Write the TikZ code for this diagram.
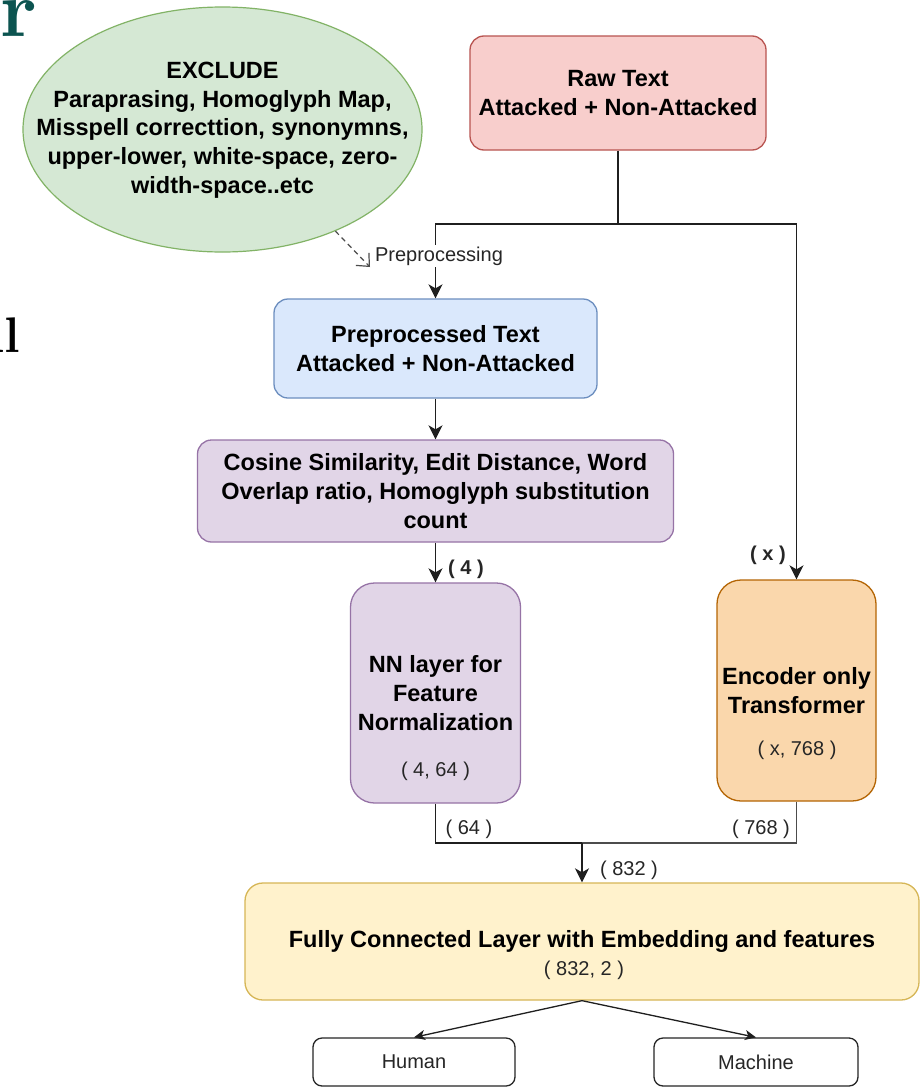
\documentclass[tikz,border=0pt]{standalone}
\usepackage{fontspec}
\newfontfamily\arial{Liberation Sans}
\usetikzlibrary{arrows.meta,shapes.geometric}
\definecolor{redfill}{HTML}{F8CECC}\definecolor{redline}{HTML}{B85450}
\definecolor{bluefill}{HTML}{DAE8FC}\definecolor{blueline}{HTML}{6C8EBF}
\definecolor{purfill}{HTML}{E1D5E7}\definecolor{purline}{HTML}{9673A6}
\definecolor{orfill}{HTML}{FAD7AC}\definecolor{orline}{HTML}{B46504}
\definecolor{yelfill}{HTML}{FFF2CC}\definecolor{yelline}{HTML}{D6B656}
\definecolor{grfill}{HTML}{D5E8D4}\definecolor{grline}{HTML}{82B366}
\definecolor{tealdark}{RGB}{12,84,80}
\begin{document}
\begin{tikzpicture}[x=1pt,y=-1pt,
  base/.style={font=\arial\bfseries\fontsize{23.5}{28.7}\selectfont, align=center, inner sep=0pt},
  box/.style={base, draw, rounded corners=14pt, line width=1.3pt},
  small/.style={font=\arial\fontsize{20}{24}\selectfont, inner sep=0pt, text=black!85},
  smallb/.style={font=\arial\bfseries\fontsize{20}{24}\selectfont, inner sep=0pt, text=black!85},
  wire/.style={line width=1.7pt, draw=black!88},
  conn/.style={wire, -{Stealth[length=14pt,width=14pt,inset=4pt]}},
  connb/.style={line width=1.3pt, draw=black!88, -{Stealth[length=11pt,width=10pt,inset=3pt]}},
  outbox/.style={draw=black!85, rounded corners=9pt, line width=1.3pt, font=\arial\fontsize{20}{24}\selectfont, inner sep=0pt, text=black!85},
]
\path[use as bounding box, fill=white] (0,0) rectangle (920,1087);

% cropped letters at the left margin
\node[anchor=base east, inner sep=0pt, text=tealdark, font=\fontsize{80}{80}\selectfont\bfseries] (rglyph) at (37,36) {r};
\node[anchor=base east, inner sep=0pt, text=black, font=\fontsize{50}{50}\selectfont\bfseries] (lglyph) at (20,352) {al};

% exclude ellipse
\node[ellipse, draw=grline, fill=grfill, line width=1.2pt, minimum width=399pt, minimum height=245pt, inner sep=0pt] (ell) at (222.5,129.5) {};
\node[base] (exctext) at (222.5,130) {EXCLUDE\\Paraprasing, Homoglyph Map,\\Misspell correcttion, synonymns,\\upper-lower, white-space, zero-\\width-space..etc};

% boxes
\node[box, fill=redfill, draw=redline, minimum width=296pt, minimum height=114pt] (raw) at (618,93) {Raw Text\\Attacked + Non-Attacked};
\node[box, fill=bluefill, draw=blueline, minimum width=323pt, minimum height=99pt] (pre) at (435.5,348.5) {Preprocessed Text\\Attacked + Non-Attacked};
\node[box, fill=purfill, draw=purline, minimum width=476pt, minimum height=102pt] (cos) at (435.5,491) {Cosine Similarity, Edit Distance, Word\\Overlap ratio, Homoglyph substitution\\count};
\node[box, fill=purfill, draw=purline, rounded corners=24pt, minimum width=170pt, minimum height=220pt] (nn) at (435.5,693) {NN layer for\\Feature\\Normalization};
\node[small] (nndim) at (435.5,771) {( 4, 64 )};
\node[box, fill=orfill, draw=orline, rounded corners=24pt, minimum width=159pt, minimum height=221pt] (enc) at (796.5,690.5) {Encoder only\\Transformer};
\node[small] (encdim) at (797,750) {( x, 768 )};
\node[box, fill=yelfill, draw=yelline, rounded corners=18pt, minimum width=674pt, minimum height=117pt] (fc) at (582,941.5) {Fully Connected Layer with Embedding and features};
\node[small] (fcdim) at (584,970) {( 832, 2 )};
\node[outbox, minimum width=202pt, minimum height=48pt] (human) at (414,1062) {Human};
\node[outbox, minimum width=204pt, minimum height=48pt] (machine) at (756,1062) {Machine};

% connectors
\coordinate (split) at (618,224);
\coordinate (dashend) at (370,267);
\coordinate (merge) at (582,843);
\draw[wire] (raw.south) -- (split);
\draw[conn] (split) -| (pre.north);
\draw[conn] (split) -| (enc.north);
\node[small, fill=white, inner sep=1.5pt] (pplabel) at (439,256) {Preprocessing};
\draw[line width=1.2pt, draw=black!70, dash pattern=on 5pt off 4pt, -{Straight Barb[length=10pt,width=18pt]}] (ell.-42.8) -- (dashend);
\draw[conn] (pre.south) -- (cos.north);
\draw[conn] (cos.south) -- (nn.north);
\node[smallb] (l4) at (466,569) {( 4 )};
\node[smallb] (lx) at (768,555) {( x )};
\draw[wire] (nn.south) |- (merge);
\draw[wire, draw=black!70] (enc.south) |- (merge);
\draw[conn] (merge) -- (fc.north);
\node[small] (l64) at (469,829) {( 64 )};
\node[small] (l768) at (761,829) {( 768 )};
\node[small] (l832) at (629,870) {( 832 )};
\draw[connb] (fc.south) -- (human.north);
\draw[connb] (fc.south) -- (machine.north);
\end{tikzpicture}
\end{document}
